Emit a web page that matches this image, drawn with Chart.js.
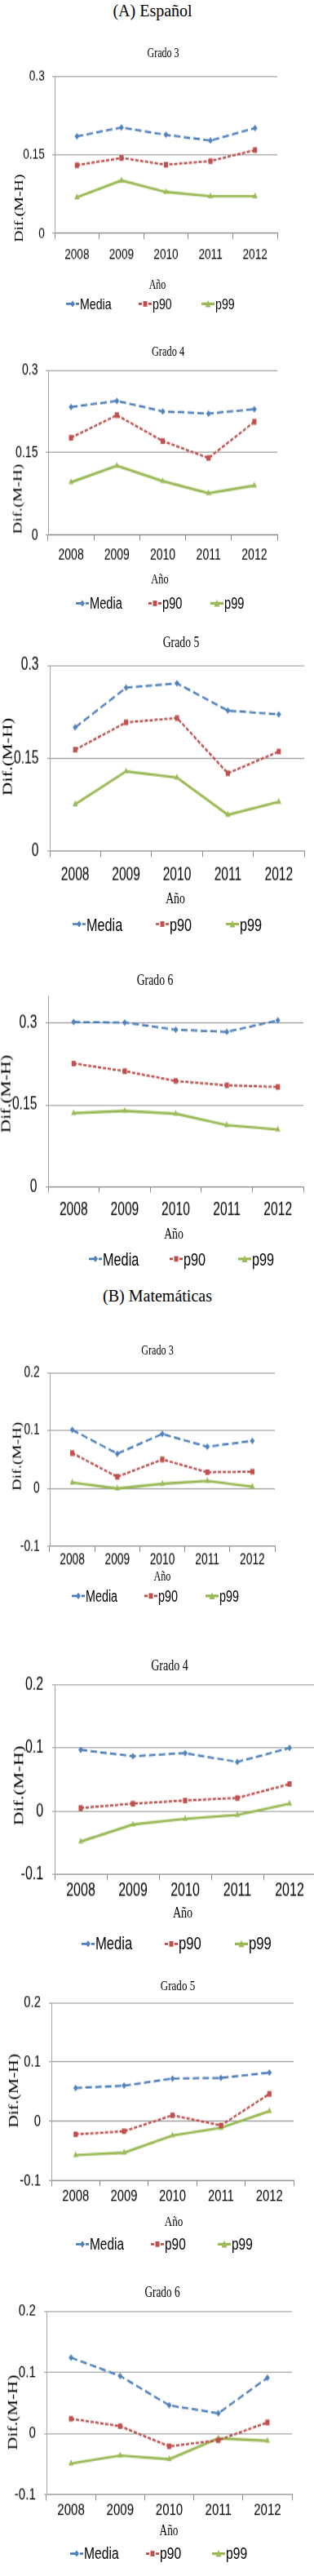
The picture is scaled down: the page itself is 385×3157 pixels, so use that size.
<!DOCTYPE html>
<html><head><meta charset="utf-8">
<script src="https://cdn.jsdelivr.net/npm/chart.js@4.4.1/dist/chart.umd.min.js"></script>
<style>
html,body{margin:0;padding:0;background:#fff;}
body{width:385px;height:3157px;overflow:hidden;position:relative;}
#wrap{position:absolute;left:0;top:0;width:400px;height:3157px;transform-origin:0 0;}
.t{position:absolute;white-space:nowrap;line-height:1;color:#000;}
.sec{position:absolute;white-space:nowrap;transform:translate(-50%,-50%);font-family:"Liberation Serif",serif;font-size:20px;color:#000;line-height:1;}
canvas{position:absolute;left:0;}
.leg{position:absolute;display:flex;align-items:center;white-space:nowrap;transform:translateY(-50%);font-family:"Liberation Sans Narrow","Arial Narrow",sans-serif;color:#000;line-height:1;}
</style></head><body>
<div class="sec" style="left:187px;top:13px">(A) Español</div>
<div class="sec" style="left:193px;top:1588px">(B) Matemáticas</div>
<div id="wrap"></div>
<script>
// ---------- data ----------
const years = ['2008', '2009', '2010', '2011', '2012'];
const seriesNames = ['Media', 'p90', 'p99'];
const espTicks = [0, 0.15, 0.3];
const matTicks = [-0.1, 0, 0.1, 0.2];

const esp3Media = [0.185, 0.202, 0.188, 0.177, 0.201];
const esp3P90   = [0.130, 0.144, 0.131, 0.138, 0.159];
const esp3P99   = [0.069, 0.101, 0.079, 0.071, 0.071];

const esp4Media = [0.233, 0.244, 0.225, 0.221, 0.229];
const esp4P90   = [0.177, 0.218, 0.171, 0.140, 0.206];
const esp4P99   = [0.096, 0.126, 0.098, 0.076, 0.090];

const esp5Media = [0.200, 0.264, 0.271, 0.227, 0.221];
const esp5P90   = [0.164, 0.208, 0.215, 0.126, 0.161];
const esp5P99   = [0.076, 0.129, 0.119, 0.059, 0.080];

const esp6Media = [0.302, 0.301, 0.288, 0.284, 0.305];
const esp6P90   = [0.226, 0.212, 0.194, 0.186, 0.183];
const esp6P99   = [0.135, 0.139, 0.134, 0.113, 0.105];

const mat3Media = [0.101, 0.060, 0.094, 0.072, 0.082];
const mat3P90   = [0.061, 0.020, 0.050, 0.028, 0.029];
const mat3P99   = [0.010, 0.000, 0.008, 0.013, 0.003];

const mat4Media = [0.097, 0.087, 0.092, 0.078, 0.100];
const mat4P90   = [0.005, 0.012, 0.017, 0.021, 0.043];
const mat4P99   = [-0.048, -0.021, -0.012, -0.006, 0.012];

const mat5Media = [0.056, 0.060, 0.072, 0.073, 0.082];
const mat5P90   = [-0.022, -0.017, 0.010, -0.007, 0.046];
const mat5P99   = [-0.057, -0.053, -0.024, -0.011, 0.017];

const mat6Media = [0.124, 0.094, 0.046, 0.033, 0.091];
const mat6P90   = [0.024, 0.012, -0.021, -0.011, 0.018];
const mat6P99   = [-0.049, -0.036, -0.042, -0.008, -0.012];

// ---------- layout (screen px) ----------
const K = 1.35; // vertical stretch of the original figure
const panels = [
  {title:'Grado 3', tx:200, ty:65,  L:67, R:340, T:93,  B:286, lab:312, ax:193, ay:348, ly:373, lx:[81,170,247], yx:23, yy:255, cw:54.6, min:0, max:0.3, ticks:espTicks, d:[esp3Media, esp3P90, esp3P99]},
  {title:'Grado 4', tx:206, ty:430, L:59, R:340, T:453, B:655, lab:680, ax:196, ay:710, ly:740, lx:[93,182,258], yx:21, yy:612, cw:56.2, min:0, max:0.3, ticks:espTicks, d:[esp4Media, esp4P90, esp4P99]},
  {title:'Grado 5', tx:222, ty:787, L:61, R:373, T:816, B:1044, lab:1073, ax:215, ay:1102, ly:1133, lx:[89,191,277], yx:10, yy:927, cw:62.4, min:0, max:0.3, ticks:espTicks, d:[esp5Media, esp5P90, esp5P99]},
  {title:'Grado 6', tx:190, ty:1202, L:59, R:372, T:1220, B:1454, lab:1483, ax:213, ay:1512, ly:1543, lx:[109,208,292], yx:8, yy:1340, cw:62.6, min:0, max:0.35, ticks:espTicks, d:[esp6Media, esp6P90, esp6P99]},
  {title:'Grado 3', tx:193, ty:1655, L:61, R:337, T:1682, B:1895, lab:1912, ax:199, ay:1932, ly:1956, lx:[88,177,252], yx:21, yy:1785, cw:55.2, min:-0.1, max:0.2, ticks:matTicks, d:[mat3Media, mat3P90, mat3P99]},
  {title:'Grado 4', tx:208, ty:2040, L:67, R:387, T:2064, B:2297, lab:2317, ax:224, ay:2344, ly:2383, lx:[100,202,288], yx:23, yy:2188, cw:64, min:-0.1, max:0.2, ticks:matTicks, d:[mat4Media, mat4P90, mat4P99]},
  {title:'Grado 5', tx:218, ty:2433, L:63, R:360, T:2454, B:2672, lab:2692, ax:213, ay:2722, ly:2750, lx:[93,185,267], yx:17, yy:2562, cw:59.4, min:-0.1, max:0.2, ticks:matTicks, d:[mat5Media, mat5P90, mat5P99]},
  {title:'Grado 6', tx:199, ty:2810, L:57, R:358, T:2832, B:3057, lab:3076, ax:207, ay:3101, ly:3129, lx:[86,179,260], yx:16, yy:2956, cw:60.2, min:-0.1, max:0.2, ticks:matTicks, d:[mat6Media, mat6P90, mat6P99]}
];

const styles = [
  {color:'#4A7EBB', fill:'#4F81BD', dash:[8,4], width:2,   point:'rectRot',  r:3},
  {color:'#BE4B48', fill:'#C0504D', dash:[4,2], width:2,   point:'rect',     r:3.6},
  {color:'#98B954', fill:'#9BBB59', dash:[],    width:2.4, point:'triangle', r:3.6}
];

const wrap = document.getElementById('wrap');
wrap.style.transform = 'scaleY(' + K + ')';
Chart.defaults.color = '#000';
const NARROW = '"Liberation Sans Narrow","Arial Narrow",sans-serif';
const SERIF = '"Liberation Serif",serif';

function addText(txt, x, y, font, size, rot) {
  const el = document.createElement('div');
  el.className = 't';
  el.textContent = txt;
  el.style.left = x + 'px';
  el.style.top = (y / K) + 'px';
  el.style.fontFamily = font;
  el.style.fontSize = size + 'px';
  el.style.transform = 'translate(-50%,-50%)' + (rot ? ' rotate(-90deg)' : '');
  wrap.appendChild(el);
}

function legendSymbol(s) {
  const w = 16, h = 10;
  let marker = '';
  if (s.point === 'rectRot') marker = `<polygon points="8,2 11,5 8,8 5,5" fill="${s.fill}"/>`;
  else if (s.point === 'rect') marker = `<rect x="5.5" y="2.5" width="5" height="5" fill="${s.fill}"/>`;
  else marker = `<polygon points="8,1.5 11.5,8 4.5,8" fill="${s.fill}"/>`;
  const dash = s.dash.length ? `stroke-dasharray="${s.dash.join(',')}"` : '';
  return `<svg width="${w}" height="${h}" style="margin-right:1px;flex:none"><line x1="0" y1="5" x2="16" y2="5" stroke="${s.color}" stroke-width="${s.width}" ${dash}/>${marker}</svg>`;
}

panels.forEach((p) => {
  const fs = 0.25 * p.cw;
  const PT = 20, XH = 45, W = 400;
  const plotH = (p.B - p.T) / K;
  const H = Math.round(PT + plotH + XH);
  const cv = document.createElement('canvas');
  cv.width = W; cv.height = H;
  cv.style.width = W + 'px'; cv.style.height = H + 'px';
  cv.style.top = (p.T / K - PT) + 'px';
  wrap.appendChild(cv);
  const tl = 7 / K;
  const xPad = (p.lab - p.B) / K - tl - 0.6 * fs;

  new Chart(cv, {
    type: 'line',
    data: {
      labels: years,
      datasets: p.d.map((vals, i) => ({
        label: seriesNames[i],
        data: vals,
        borderColor: styles[i].color,
        backgroundColor: styles[i].fill,
        borderWidth: styles[i].width,
        borderDash: styles[i].dash,
        pointStyle: styles[i].point,
        pointRadius: styles[i].r,
        pointBorderWidth: 0,
        pointBackgroundColor: styles[i].fill,
        tension: 0,
        fill: false
      }))
    },
    options: {
      responsive: false,
      animation: false,
      devicePixelRatio: 1,
      layout: {padding: {left: 0, right: W - p.R, top: PT, bottom: H - PT - plotH - XH}},
      plugins: {legend: {display: false}, tooltip: {enabled: false}, title: {display: false}},
      scales: {
        x: {
          type: 'category',
          offset: true,
          grid: {display: true, offset: true, drawOnChartArea: false, drawTicks: true, tickLength: tl, color: '#8c8c8c', lineWidth: 1},
          border: {display: true, color: '#8c8c8c', width: 1},
          ticks: {font: {family: NARROW, size: fs}, padding: xPad, maxRotation: 0, autoSkip: false, color: '#000'},
          afterFit: (s) => { s.height = XH; }
        },
        y: {
          min: p.min, max: p.max,
          afterBuildTicks: (s) => { s.ticks = p.ticks.map(v => ({value: v})); },
          grid: {color: '#a6a6a6', lineWidth: 1, drawTicks: true, tickLength: 3},
          border: {display: true, color: '#a6a6a6', width: 1},
          ticks: {font: {family: NARROW, size: fs}, padding: 0.17 * p.cw, color: '#000', callback: (v) => String(v)},
          afterFit: (s) => { s.width = p.L; }
        }
      }
    }
  });

  addText(p.title, p.tx, p.ty, SERIF, 0.22 * p.cw);
  addText('Año', p.ax, p.ay, SERIF, 0.22 * p.cw);
  addText('Dif.(M-H)', p.yx, p.yy, SERIF, 0.27 * p.cw, true);

  p.lx.forEach((x, i) => {
    const el = document.createElement('div');
    el.className = 'leg';
    el.style.left = x + 'px';
    el.style.top = (p.ly / K) + 'px';
    el.style.fontSize = (0.26 * p.cw) + 'px';
    el.innerHTML = legendSymbol(styles[i]) + '<span>' + seriesNames[i] + '</span>';
    wrap.appendChild(el);
  });
});
</script>
</body></html>
